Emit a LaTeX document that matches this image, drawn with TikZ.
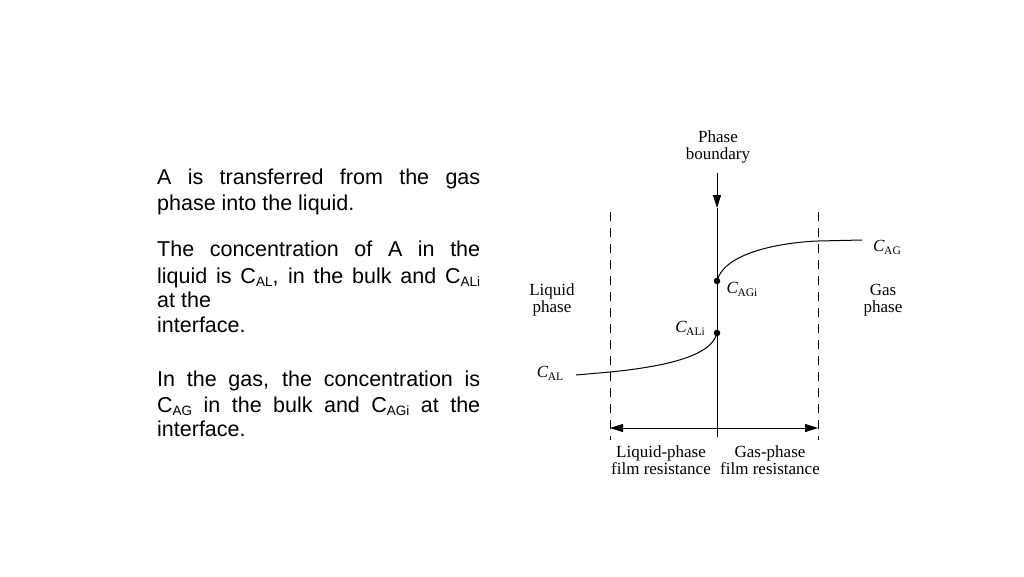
\documentclass[tikz,border=0pt]{standalone}
\usepackage{fontspec}
\setmainfont{Liberation Serif}
\newfontfamily\sans{Liberation Sans}
\usetikzlibrary{arrows.meta}
\newcommand{\cc}[1]{\textit{C}\kern-0.5pt\raisebox{-3pt}{\fontsize{11.5}{11.5}\selectfont #1}}
\newcommand{\ps}[1]{\raisebox{-3pt}{\fontsize{13.5}{13.5}\selectfont #1}}
\begin{document}
\begin{tikzpicture}[x=1pt,y=-1pt,
  para/.style={anchor=base west,inner sep=0,font=\sans\fontsize{21.5}{22}\selectfont},
  lab/.style={font=\fontsize{17}{17.5}\selectfont,align=center,inner sep=0},
  dashline/.style={dashed,dash pattern=on 9pt off 7pt,line width=0.8pt},
  dot/.style={circle,fill,inner sep=0,minimum size=6.5pt},
  tip/.style={-{Triangle[length=13pt,width=8pt]}}]
\useasboundingbox[fill=white] (0,0) rectangle (1024,576);
% left text
\node[para] (t1) at (157,184) {\makebox[323pt][s]{A is transferred from the gas}};
\node[para] (t2) at (157,210) {phase into the liquid.};
\node[para] (t3) at (157,256) {\makebox[323pt][s]{The concentration of A in the}};
\node[para] (t4) at (157,283) {\makebox[323pt][s]{liquid is C\ps{AL}, in the bulk and C\ps{ALi}}};
\node[para] (t5) at (157,307) {at the};
\node[para] (t6) at (157,332) {interface.};
\node[para] (t7) at (157,386) {\makebox[323pt][s]{In the gas, the concentration is}};
\node[para] (t8) at (157,412) {\makebox[323pt][s]{C\ps{AG} in the bulk and C\ps{AGi} at the}};
\node[para] (t9) at (157,436) {interface.};
% diagram
\coordinate (bt) at (717,173);
\coordinate (ba) at (717,208);
\coordinate (bb) at (717,437);
\coordinate (lt) at (610,212);
\coordinate (lb) at (610,440);
\coordinate (rt) at (818,212);
\coordinate (rb) at (818,440);
\node[dot] (li) at (717,333) {};
\node[dot] (gi) at (717,281) {};
\coordinate (al) at (576,375);
\coordinate (ag) at (862,240);
\coordinate (am) at (717,428);
\draw[line width=1pt,tip] (bt) -- (ba);
\draw[line width=1pt] (ba) -- (bb);
\draw[dashline] (lt) -- (lb);
\draw[dashline] (rt) -- (rb);
\draw[line width=1pt] (al) -- (610,372) .. controls (670,366) and (712,355) .. (li.center);
\draw[line width=1pt] (gi.center) .. controls (725,250) and (790,242) .. (818,241) -- (ag);
\draw[line width=1pt,tip] (am) -- (lt |- am);
\draw[line width=1pt,tip] (am) -- (rt |- am);
\node[lab] (pb) at (718,147) {Phase\\boundary};
\node[lab] (lp) at (552,300) {Liquid\\phase};
\node[lab] (gp) at (883,300) {Gas\\phase};
\node[lab] (cal) at (550,373) {\cc{AL}};
\node[lab] (cali) at (690,328) {\cc{ALi}};
\node[lab] (cagi) at (742,289) {\cc{AGi}};
\node[lab] (cag) at (887,247) {\cc{AG}};
\node[lab] (lf) at (661,460) {Liquid-phase\\film resistance};
\node[lab] (gf) at (770,460) {Gas-phase\\film resistance};
\end{tikzpicture}
\end{document}
